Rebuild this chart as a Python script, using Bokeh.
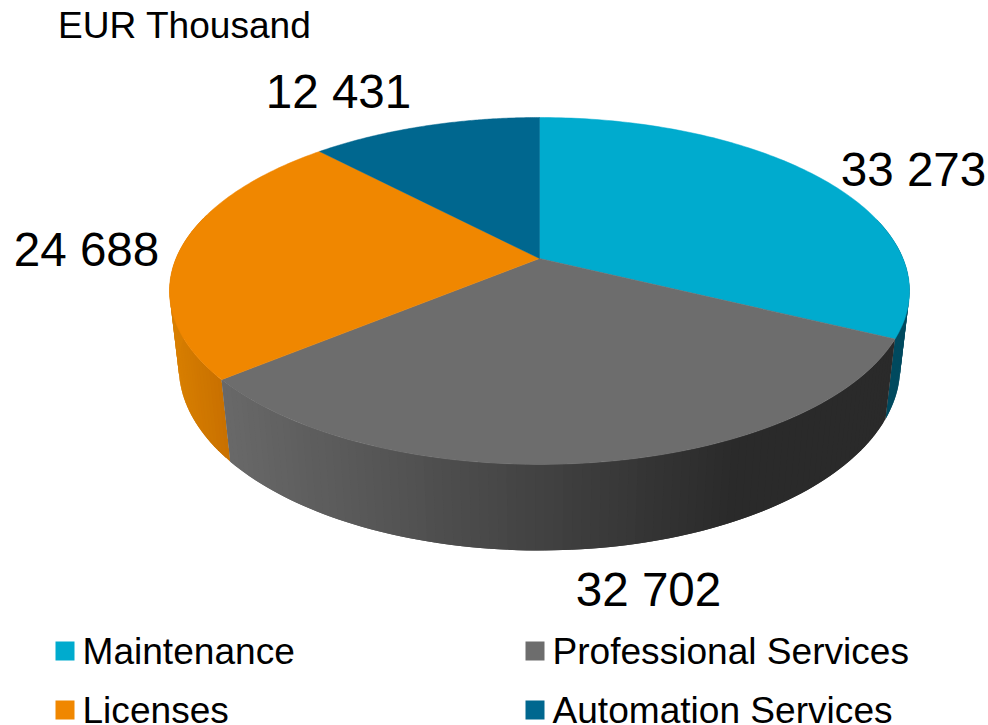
import numpy as np
from bokeh.plotting import figure
from bokeh.models import Range1d
from bokeh.core.properties import value
from bokeh.embed import file_html
from bokeh.resources import INLINE

categories = ["Maintenance", "Professional Services", "Licenses", "Automation Services"]
values = [33273, 32702, 24688, 12431]
value_labels = ["33 273", "32 702", "24 688", "12 431"]
top_colors = ["#00ABCE", "#6D6D6D", "#F08700", "#00678F"]
side_left = ["#004A5F", "#686868", "#D87F00", "#004A5F"]
side_right = ["#004A5F", "#2A2A2A", "#C87000", "#004A5F"]

label_x = [913, 648, 86, 338]
label_y = [168.5, 588.5, 248.5, 90.5]
legend_x = [55, 525, 55, 525]
legend_y = [650.5, 650.5, 709.5, 709.5]
title = "EUR Thousand"
FONT = value("Liberation Sans")

# Perspective projection of the pie disc
CX, CY, R, H, K, M, Z = 539.0, 258.0, 363.5, 167.4, 0.187, 0.025, 77.3


def project(theta, lower=False):
    sx, sy = np.sin(theta), np.cos(theta)
    d = 1 + K * sy + (M if lower else 0)
    return CX + R * sx / d, CY + (-H * sy + (Z if lower else 0)) / d


p = figure(width=988, height=725, x_range=Range1d(0, 988), y_range=Range1d(725, 0),
           output_backend="svg", toolbar_location=None, min_border=0,
           outline_line_color=None, background_fill_color="white", border_fill_color="white")
p.axis.visible = False
p.grid.visible = False

fractions = np.array(values) / sum(values)
edges = np.concatenate([[0], np.cumsum(fractions)]) * 2 * np.pi

# side wall strips, each overlapping the next one so no seams show
xs_all, ys_all, cols = [], [], []
for i in (3, 0, 2, 1):
    ts = np.linspace(edges[i], edges[i + 1], max(3, int(fractions[i] * 300)))
    c0 = np.array([int(side_left[i][j:j + 2], 16) for j in (1, 3, 5)])
    c1 = np.array([int(side_right[i][j:j + 2], 16) for j in (1, 3, 5)])
    for k in range(len(ts) - 1):
        a, b = ts[k], ts[min(k + 2, len(ts) - 1)]
        if np.cos((ts[k] + ts[k + 1]) / 2) > 0.25:
            continue
        xa, ya = project(a); xb, yb = project(b)
        xc, yc = project(b, True); xd, yd = project(a, True)
        xm = project((ts[k] + ts[k + 1]) / 2)[0]
        if i == 1:
            f = np.clip((xm - 230) / (740 - 230), 0, 1)
        elif i == 2:
            f = np.clip((xm - 170) / (225 - 170), 0, 1)
        else:
            f = 0
        c = c0 + (c1 - c0) * f
        xs_all.append([xa, xb, xc, xd]); ys_all.append([ya, yb, yc, yd])
        cols.append("#%02X%02X%02X" % tuple(int(v) for v in c))
p.patches(xs_all, ys_all, fill_color=cols, line_color=None)

# top surface
for i in range(len(values)):
    ts = np.linspace(edges[i], edges[i + 1], 120)
    xs, ys = project(ts)
    p.patch(np.r_[CX, xs], np.r_[CY, ys], fill_color=top_colors[i], line_color=top_colors[i], line_width=0.5)

p.text(label_x, label_y, text=value_labels, text_font=FONT, text_font_size="47.6px",
       text_align="center", text_baseline="alphabetic", text_color="#000000")
p.text([57.5], [24], text=[title], text_font=FONT, text_font_size="37.1px",
       text_baseline="alphabetic", text_color="#000000")
p.rect([x + 9.5 for x in legend_x], legend_y, width=19, height=19, fill_color=top_colors, line_color=None)
p.text([x + 27 for x in legend_x], legend_y, text=categories, text_font=FONT,
       text_font_size="37.1px", text_baseline="alphabetic", text_color="#000000")

open("out.html", "w").write(file_html(p, INLINE))
